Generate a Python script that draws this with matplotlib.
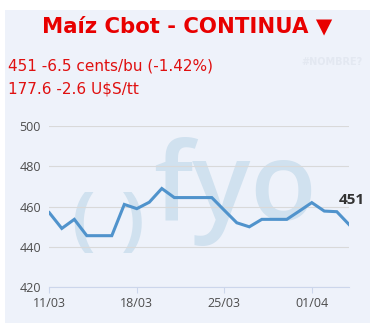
import pandas as pd
import numpy as np
import matplotlib.pyplot as plt
import matplotlib.dates as mdates
from matplotlib.patches import Rectangle


# datos (cierre diario, cents/bu)
dates = pd.date_range("2024-03-11", "2024-04-04", freq="D")
prices = [457.0, 449.2, 453.7, 445.6, 445.6, 445.6, 461.1, 459.0, 462.2,
          469.0, 464.5, 464.5, 464.5, 464.5, 458.2, 452.0, 450.0, 453.7,
          453.7, 453.7, 457.8, 462.0, 457.8, 457.5, 451.0]

tick_dates = pd.to_datetime(["2024-03-11", "2024-03-18", "2024-03-25", "2024-04-01"])
y_ticks = [420, 440, 460, 480, 500]

title = "Maíz Cbot - CONTINUA ▼"
line1 = "451 -6.5 cents/bu (-1.42%)"
line2 = "177.6 -2.6 U$S/tt"
last_label = "451"

bg = "#eef2fa"
red = "#e80000"
blue = "#5093cc"
wm = "#d0e1ef"

fig = plt.figure(figsize=(3.70, 3.31), dpi=100)
fig.patch.set_facecolor("white")

# panel de fondo
fig.patches.append(
    Rectangle((5 / 370, 8 / 331), 1, 313 / 331,
              transform=fig.transFigure, facecolor=bg, edgecolor="none", zorder=-5)
)

ax = fig.add_axes([49.3 / 370, 1 - 287.3 / 331, 300 / 370, 161.3 / 331])
ax.set_facecolor("none")
ax.set_zorder(2)

# marca de agua
ax.text(0.345, 0.42, "fyo", transform=ax.transAxes, fontsize=78,
        family="Open Sans", weight="semibold", color=wm, ha="left",
        va="baseline", zorder=0)
ax.text(0.112, 0.39, "(", transform=ax.transAxes, fontsize=50,
        family="Open Sans", weight="bold", color=wm, ha="center",
        va="center", zorder=0)
ax.text(0.278, 0.39, ")", transform=ax.transAxes, fontsize=50,
        family="Open Sans", weight="bold", color=wm, ha="center",
        va="center", zorder=0)

ax.plot(dates, prices, color=blue, linewidth=2.2, zorder=3,
        solid_joinstyle="miter")

ax.annotate(last_label, (dates[-1], prices[-1]), xytext=(3, 25),
            textcoords="offset pixels", fontsize=11, weight="bold",
            color="#333333", ha="center", va="center", family="Open Sans",
            annotation_clip=False, zorder=4)

ax.set_xlim(dates[0], dates[-1])
ax.set_ylim(420, 500)
ax.set_yticks(y_ticks)
ax.set_xticks(tick_dates)
ax.xaxis.set_major_formatter(mdates.DateFormatter("%d/%m"))

ax.grid(axis="y", color="#d9d9d9", linewidth=0.8)
ax.set_axisbelow(True)
for s in ["top", "right", "left"]:
    ax.spines[s].set_visible(False)
ax.spines["bottom"].set_color("#ccd6eb")
ax.spines["bottom"].set_linewidth(0.8)

ax.tick_params(axis="y", length=0, pad=6, labelsize=9, labelcolor="#4d4d4d")
ax.tick_params(axis="x", length=4, width=0.8, color="#ccd6eb", pad=3,
               labelsize=9, labelcolor="#4d4d4d")
for lab in ax.get_xticklabels() + ax.get_yticklabels():
    lab.set_family("Open Sans")

# encabezado
fig.text(187 / 370, 1 - 26 / 331, title, fontsize=15.3, weight="bold",
         color=red, ha="center", va="center")
fig.text(8 / 370, 1 - 66 / 331, line1, fontsize=11, color="#e01010",
         ha="left", va="center")
fig.text(8 / 370, 1 - 89 / 331, line2, fontsize=11, color="#e01010",
         ha="left", va="center")
fig.text(363 / 370, 1 - 62 / 331, "#NOMBRE?", fontsize=7, weight="bold",
         color="#e3e8f1", ha="right", va="center")

plt.savefig("out.png", dpi=100)
